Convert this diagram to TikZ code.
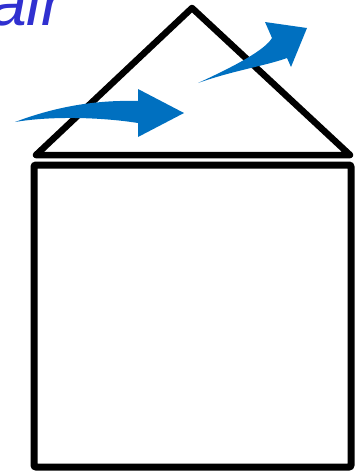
\documentclass[tikz,border=0pt]{standalone}
\usepackage{fontspec}
\setmainfont{Liberation Sans}
\usepackage{xcolor}
\usetikzlibrary{positioning}
\definecolor{airblue}{RGB}{48,48,208}
\definecolor{flowblue}{RGB}{0,112,192}

\begin{document}
\begin{tikzpicture}[
  x=1pt, y=-1pt,
  roof/.style={draw=black, line width=6.5pt, line join=round},
  wall/.style={draw=black, line width=7pt, rounded corners=2pt},
  flow/.style={fill=flowblue, draw=none},
  label/.style={text=airblue, font=\fontsize{66}{66}\selectfont\itshape,
                inner sep=0pt, anchor=base west}
]
  \useasboundingbox (0,0) rectangle (361,472);

  \coordinate (eaveL) at (36,155);
  \coordinate (ridge) at (192,8);
  \coordinate (eaveR) at (350,155);
  \draw[roof] (eaveL) -- (ridge) -- (eaveR) -- cycle;
  \draw[wall] (34,165) rectangle (351,467);

  \fill[flow] (15,122) .. controls (60,105) and (100,100) .. (138,101)
    -- (138,89) -- (184,113) -- (138,137) -- (138,123)
    .. controls (100,117) and (50,116) .. (15,122) -- cycle;
  \fill[flow] (198,83) .. controls (235,66) and (265,50) .. (272,38)
    -- (265,22) -- (307,28) -- (291,67) -- (287,58)
    .. controls (265,66) and (235,70) .. (198,83) -- cycle;

  \node[label] (air) at (-10,25) {air};
\end{tikzpicture}
\end{document}
